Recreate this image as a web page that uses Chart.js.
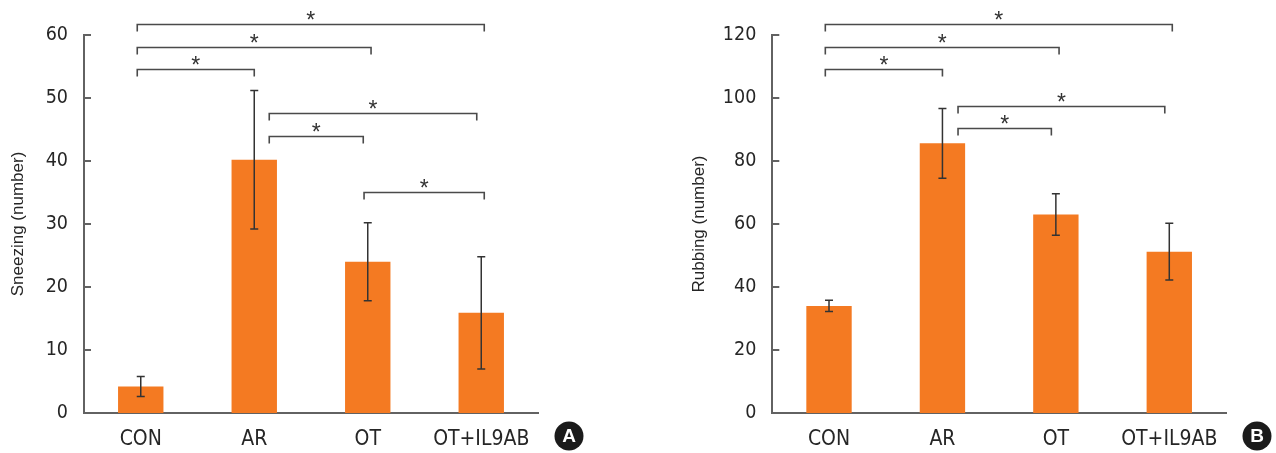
<!DOCTYPE html>
<html>
<head>
<meta charset="utf-8">
<script src="https://cdn.jsdelivr.net/npm/chart.js@4.4.1/dist/chart.umd.min.js"></script>
<style>
  html, body { margin: 0; padding: 0; background: #fff; }
  .panel { position: absolute; top: 0; width: 638px; height: 453px; }
</style>
</head>
<body>
<div class="panel" style="left:0"><canvas id="sneezing-chart"></canvas></div>
<div class="panel" style="left:638px"><canvas id="rubbing-chart"></canvas></div>
<script>
const categories = ['CON', 'AR', 'OT', 'OT+IL9AB'];

const sneezingMeans = [4.2, 40.2, 24.0, 15.9];
const sneezingErrors = [1.6, 11.0, 6.2, 8.9];
const sneezingTicks = [0, 10, 20, 30, 40, 50, 60];

const rubbingMeans = [34.0, 85.6, 63.0, 51.2];
const rubbingErrors = [1.8, 11.1, 6.6, 9.0];
const rubbingTicks = [0, 20, 40, 60, 80, 100, 120];

const barColor = '#f47a22';
const axisColor = '#626262';
const textColor = '#262626';
const narrowFont = '"Liberation Sans Narrow", "DejaVu Sans Condensed", "Arial Narrow", sans-serif';

// draws inside tick marks, error bars, significance brackets and the panel badge
const extrasPlugin = {
  id: 'extras',
  afterDatasetsDraw(chart, args, opts) {
    const ctx = chart.ctx;
    const xs = chart.scales.x;
    const ys = chart.scales.y;
    const area = chart.chartArea;
    const meta = chart.getDatasetMeta(0);
    ctx.save();

    ctx.strokeStyle = axisColor;
    ctx.lineWidth = 2;
    ys.ticks.forEach(t => {
      if (t.value === 0) return;
      const py = ys.getPixelForValue(t.value);
      ctx.beginPath();
      ctx.moveTo(area.left, py);
      ctx.lineTo(area.left + 7, py);
      ctx.stroke();
    });

    ctx.strokeStyle = '#333';
    ctx.lineWidth = 1.5;
    meta.data.forEach((bar, i) => {
      const m = opts.means[i];
      const e = opts.errors[i];
      const top = ys.getPixelForValue(m + e);
      const bottom = ys.getPixelForValue(m - e);
      ctx.beginPath();
      ctx.moveTo(bar.x, top);
      ctx.lineTo(bar.x, bottom);
      ctx.moveTo(bar.x - 4, top);
      ctx.lineTo(bar.x + 4, top);
      ctx.moveTo(bar.x - 4, bottom);
      ctx.lineTo(bar.x + 4, bottom);
      ctx.stroke();
    });

    ctx.strokeStyle = '#4a4a4a';
    ctx.fillStyle = '#333';
    ctx.lineWidth = 1.6;
    ctx.font = '23px "Liberation Sans", Arial, sans-serif';
    ctx.textAlign = 'center';
    ctx.textBaseline = 'alphabetic';
    const star = ctx.measureText('*');
    const starShift = (star.actualBoundingBoxAscent - star.actualBoundingBoxDescent) / 2;
    opts.brackets.forEach(b => {
      const x1 = xs.getPixelForValue(b.from) + b.dx[0];
      const x2 = xs.getPixelForValue(b.to) + b.dx[1];
      const py = Math.round(ys.getPixelForValue(b.level)) + 0.5;
      ctx.beginPath();
      ctx.moveTo(x1, py + 7);
      ctx.lineTo(x1, py);
      ctx.lineTo(x2, py);
      ctx.lineTo(x2, py + 7);
      ctx.stroke();
      ctx.fillText('*', (x1 + x2) / 2, py - 9.5 + starShift);
    });

    const cx = area.right + 31;
    const cy = 436;
    ctx.fillStyle = '#1b1b1b';
    ctx.beginPath();
    ctx.arc(cx, cy, 14.5, 0, Math.PI * 2);
    ctx.fill();
    ctx.fillStyle = '#fff';
    ctx.font = 'bold 19px "Liberation Sans", Arial, sans-serif';
    ctx.textBaseline = 'middle';
    ctx.fillText(opts.badge, cx, cy + 1);

    ctx.restore();
  }
};

function makeChart(canvasId, means, errors, ticks, title, extras, layout) {
  return new Chart(document.getElementById(canvasId), {
    type: 'bar',
    data: {
      labels: categories,
      datasets: [{
        data: means,
        backgroundColor: barColor,
        borderWidth: 0,
        barPercentage: 0.4,
        categoryPercentage: 1
      }]
    },
    options: {
      responsive: true,
      maintainAspectRatio: false,
      animation: false,
      layout: {
        padding: { left: 0, top: 35, right: layout.right, bottom: 0 }
      },
      scales: {
        x: {
          grid: { display: false, drawTicks: false },
          border: { display: true, color: axisColor, width: 2 },
          ticks: {
            color: textColor,
            padding: 14,
            font: { family: narrowFont, size: 21 }
          },
          afterFit: (scale) => { scale.height = 40; }
        },
        y: {
          min: ticks[0],
          max: ticks[ticks.length - 1],
          afterBuildTicks: (scale) => { scale.ticks = ticks.map(v => ({ value: v })); },
          grid: { display: false, drawTicks: false },
          border: { display: true, color: axisColor, width: 2 },
          ticks: {
            color: textColor,
            padding: 16,
            font: { family: narrowFont, size: 19.5 }
          },
          title: {
            display: true,
            text: title,
            color: textColor,
            padding: { top: layout.titlePad, bottom: 0 },
            font: { family: '"Liberation Sans", Arial, sans-serif', size: 17 }
          },
          afterFit: (scale) => { scale.width = layout.yWidth; }
        }
      },
      plugins: {
        legend: { display: false },
        tooltip: { enabled: false },
        extras: Object.assign({ means: means, errors: errors }, extras)
      }
    },
    plugins: [extrasPlugin]
  });
}

const sneezingChart = makeChart('sneezing-chart', sneezingMeans, sneezingErrors, sneezingTicks,
  'Sneezing (number)', {
    badge: 'A',
    brackets: [
      { from: 0, to: 3, level: 61.75, dx: [-3.5, 3] },
      { from: 0, to: 2, level: 58.15, dx: [-3.5, 3.3] },
      { from: 0, to: 1, level: 54.55, dx: [-3.5, 0] },
      { from: 1, to: 3, level: 47.55, dx: [15, -4.5] },
      { from: 1, to: 2, level: 43.95, dx: [15, -4.5] },
      { from: 2, to: 3, level: 35.1, dx: [-3.7, 3] }
    ]
  }, { right: 100, yWidth: 84, titlePad: 8.6 });

const rubbingChart = makeChart('rubbing-chart', rubbingMeans, rubbingErrors, rubbingTicks,
  'Rubbing (number)', {
    badge: 'B',
    brackets: [
      { from: 0, to: 3, level: 123.5, dx: [-3.7, 3] },
      { from: 0, to: 2, level: 116.3, dx: [-3.7, 3.2] },
      { from: 0, to: 1, level: 109.1, dx: [-3.7, 0] },
      { from: 1, to: 3, level: 97.6, dx: [15.6, -4.5] },
      { from: 1, to: 2, level: 90.4, dx: [15.6, -4.5] }
    ]
  }, { right: 50, yWidth: 134.3, titlePad: 50.8 });
</script>
</body>
</html>
